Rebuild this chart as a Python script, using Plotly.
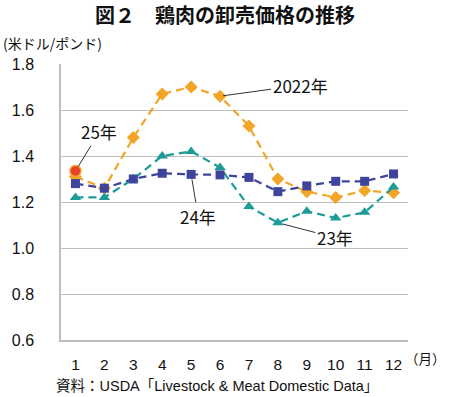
import plotly.graph_objects as go

months = [1, 2, 3, 4, 5, 6, 7, 8, 9, 10, 11, 12]
month_labels = ["1", "2", "3", "4", "5", "6", "7", "8", "9", "10", "11", "12"]
y2022 = [1.31, 1.26, 1.48, 1.67, 1.70, 1.66, 1.53, 1.30, 1.245, 1.22, 1.25, 1.24]
y2023 = [1.22, 1.22, 1.30, 1.40, 1.42, 1.35, 1.18, 1.11, 1.16, 1.13, 1.155, 1.265]
y2024 = [1.28, 1.26, 1.30, 1.325, 1.32, 1.318, 1.307, 1.245, 1.27, 1.29, 1.29, 1.322]
y2025 = [1.335]
y_ticks = [0.6, 0.8, 1.0, 1.2, 1.4, 1.6, 1.8]

ORANGE = "#F2A526"
TEAL = "#1C9C96"
NAVY = "#3E449C"
RED = "#E8442A"
GRID = "#BEBEBE"
JP = "Noto Sans CJK JP"
LAT = "Liberation Sans, Noto Sans CJK JP"

fig = go.Figure()
fig.add_trace(go.Scatter(x=months, y=y2022, mode="lines+markers",
                         line=dict(color=ORANGE, width=2.2, dash="8px,5px"),
                         marker=dict(symbol="diamond", size=10, color=ORANGE)))
fig.add_trace(go.Scatter(x=months, y=y2023, mode="lines+markers",
                         line=dict(color=TEAL, width=2.2, dash="8px,5px"),
                         marker=dict(symbol="triangle-up", size=10, color=TEAL)))
fig.add_trace(go.Scatter(x=months, y=y2024, mode="lines+markers",
                         line=dict(color=NAVY, width=2.2, dash="8px,5px"),
                         marker=dict(symbol="square", size=9, color=NAVY)))
fig.add_trace(go.Scatter(x=months[:1], y=y2025, mode="markers",
                         marker=dict(symbol="circle", size=11, color=RED,
                                     line=dict(color=ORANGE, width=1.5))))

ann_font = dict(family="Noto Sans CJK JP, Liberation Sans", size=17, color="#111111")
arrow = dict(showarrow=True, arrowhead=0, arrowwidth=1, arrowcolor="#333333",
             axref="pixel", ayref="pixel")
fig.add_annotation(x=months[5], y=y2022[5], text="2022年", ax=80, ay=-11,
                   font=ann_font, standoff=3, **arrow)
fig.add_annotation(x=months[0], y=y2025[0], text="25年", ax=24, ay=-39,
                   font=ann_font, standoff=5, **arrow)
fig.add_annotation(x=months[4], y=y2024[4], text="24年", ax=7, ay=42,
                   font=ann_font, standoff=5, **arrow)
fig.add_annotation(x=months[7], y=y2023[7], text="23年", ax=57, ay=15,
                   font=ann_font, standoff=5, **arrow)

fig.add_annotation(xref="paper", yref="paper", x=-0.172, y=1.076, xanchor="left",
                   yanchor="middle", text="(米ドル/ポンド)", showarrow=False,
                   font=dict(family=JP, size=14, color="#111111"))
fig.add_annotation(xref="paper", yref="paper", x=0.985, y=-0.065, xanchor="left",
                   yanchor="middle", text="（月）", showarrow=False,
                   font=dict(family=JP, size=13.5, color="#111111"))
fig.add_annotation(xref="paper", yref="paper", x=0.4496, y=-0.167, xanchor="center",
                   yanchor="middle", text="資料：USDA「Livestock & Meat Domestic Data」",
                   showarrow=False, font=dict(family=LAT, size=14.5, color="#111111"))

fig.update_layout(
    width=450, height=397,
    margin=dict(l=61, r=42, t=64, b=57),
    paper_bgcolor="white", plot_bgcolor="white",
    showlegend=False,
    title=dict(text="<b>図２　鶏肉の卸売価格の推移</b>", x=0.5, xanchor="center",
               y=1 - 16 / 397, yanchor="middle",
               font=dict(family=JP, size=20, color="#111111")),
    xaxis=dict(range=[0.5, 12.5], tickvals=months, ticktext=month_labels,
               showgrid=False, showline=True, linecolor=GRID, linewidth=1.5,
               ticks="", ticklabelstandoff=10, zeroline=False,
               tickfont=dict(family=LAT, size=15.5, color="#111111")),
    yaxis=dict(range=[0.6, 1.8], tickvals=y_ticks, tickformat=".1f",
               showgrid=True, gridcolor=GRID, gridwidth=1.2,
               showline=True, linecolor=GRID, linewidth=1.5,
               ticks="", ticklabelstandoff=22, zeroline=False,
               tickfont=dict(family=LAT, size=16, color="#111111")),
)

fig.write_html("out.html", config={"displayModeBar": False},
               post_script="document.body.style.margin='0';document.body.style.overflow='hidden';")
